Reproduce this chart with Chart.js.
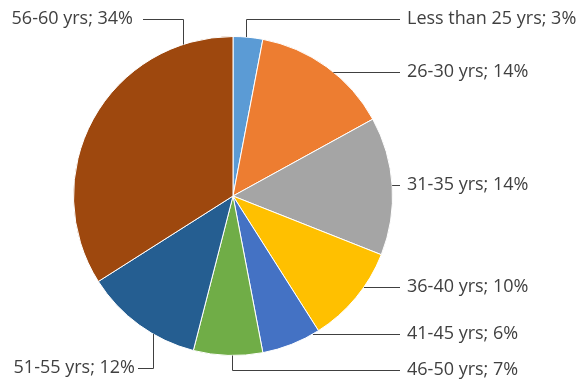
<!DOCTYPE html>
<html>
<head>
<meta charset="utf-8">
<script src="https://cdn.jsdelivr.net/npm/chart.js@4/dist/chart.umd.min.js"></script>
<style>
  html, body { margin: 0; padding: 0; background: #fff; }
  #wrap { width: 586px; height: 386px; }
</style>
</head>
<body>
<div id="wrap"><canvas id="graficoIdade"></canvas></div>
<script>
const categorias = ['Less than 25 yrs', '26-30 yrs', '31-35 yrs', '36-40 yrs', '41-45 yrs', '46-50 yrs', '51-55 yrs', '56-60 yrs'];
const percentuais = [3, 14, 14, 10, 6, 7, 12, 34];
const cores = ['#5b9bd5', '#ed7d31', '#a5a5a5', '#ffc000', '#4472c4', '#70ad47', '#255e91', '#9e480e'];

// where each label sits and how its leader line runs
const rotulos = [
  { tipo: 'v', x: 246, y: 19, lado: 'd' },
  { tipo: 'h', y: 72, lado: 'd' },
  { tipo: 'h', y: 185, lado: 'd' },
  { tipo: 'h', y: 287, lado: 'd' },
  { tipo: 'h', y: 334, lado: 'd' },
  { tipo: 'v', x: 232, y: 370, lado: 'd' },
  { tipo: 'v', x: 153, y: 368, lado: 'e', fim: 138, tx: 135 },
  { tipo: 'v', x: 183, y: 19, lado: 'e', fim: 143, tx: 133 }
];

const rotulosPlugin = {
  id: 'rotulos',
  afterDatasetsDraw(chart) {
    const ctx = chart.ctx;
    const arcs = chart.getDatasetMeta(0).data;
    const cx = arcs[0].x, cy = arcs[0].y, r = arcs[0].outerRadius;
    const textoDir = 407, linhaDir = 400;
    ctx.save();
    ctx.strokeStyle = '#404040';
    ctx.lineWidth = 1;
    ctx.fillStyle = '#404040';
    ctx.font = '18px "Open Sans"';
    ctx.textBaseline = 'middle';
    rotulos.forEach((p, i) => {
      const texto = categorias[i] + '; ' + percentuais[i] + '%';
      ctx.beginPath();
      if (p.tipo === 'h') {
        const dy = p.y - cy;
        const x0 = cx + Math.sqrt(Math.max(0, r * r - dy * dy));
        ctx.moveTo(x0, p.y + 0.5);
        ctx.lineTo(linhaDir, p.y + 0.5);
      } else {
        const dx = p.x - cx;
        const h = Math.sqrt(Math.max(0, r * r - dx * dx));
        const y0 = p.y < cy ? cy - h : cy + h;
        const fim = p.lado === 'd' ? linhaDir : p.fim;
        ctx.moveTo(p.x + 0.5, y0);
        ctx.lineTo(p.x + 0.5, p.y + 0.5);
        ctx.lineTo(fim, p.y + 0.5);
      }
      ctx.stroke();
      if (p.lado === 'd') {
        ctx.textAlign = 'left';
        ctx.fillText(texto, textoDir, p.y);
      } else {
        ctx.textAlign = 'right';
        ctx.fillText(texto, p.tx, p.y);
      }
    });
    ctx.restore();
  }
};

new Chart(document.getElementById('graficoIdade'), {
  type: 'pie',
  data: {
    labels: categorias,
    datasets: [{
      data: percentuais,
      backgroundColor: cores,
      borderColor: '#ffffff',
      borderWidth: 1
    }]
  },
  options: {
    responsive: true,
    maintainAspectRatio: false,
    animation: false,
    layout: { padding: { left: 73, right: 193, top: 36, bottom: 30 } },
    plugins: { legend: { display: false }, tooltip: { enabled: false } }
  },
  plugins: [rotulosPlugin]
});
</script>
</body>
</html>
